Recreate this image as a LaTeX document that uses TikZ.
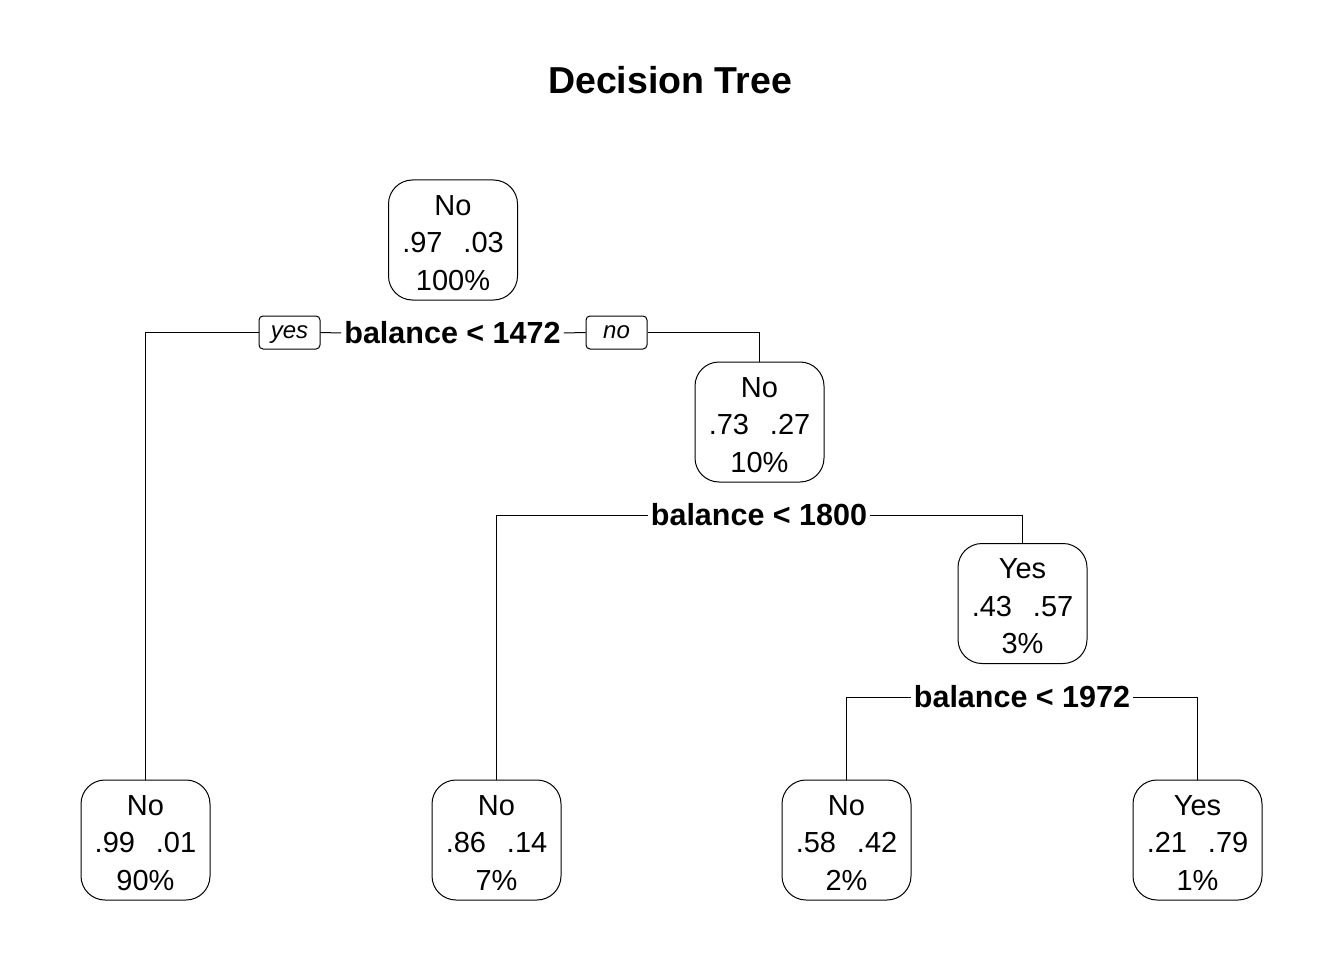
\documentclass[tikz,border=0pt]{standalone}
\usepackage{fontspec}
\setmainfont{Liberation Sans}
\begin{document}
\begin{tikzpicture}[x=1pt,y=-1pt,
  every node/.style={inner sep=0pt},
  leafbox/.style={draw,line width=1pt,rounded corners=24pt,minimum width=129pt,minimum height=120pt,
    align=center,font=\fontsize{29}{37.5}\selectfont},
  splitlbl/.style={font=\fontsize{30.5}{36}\selectfont\bfseries,inner xsep=3pt},
  dirbox/.style={draw,line width=1pt,rounded corners=4pt,minimum width=61pt,minimum height=33pt,
    text height=12.5pt,text depth=0pt,font=\fontsize{24}{28}\selectfont\itshape},
  edge/.style={line width=1pt}]
\useasboundingbox (0,0) rectangle (1344,960);
\fill[white] (0,0) rectangle (1344,960);
\newcommand{\pgap}{\hspace{0.72em}}
\newcommand{\tstrut}{\rule{0pt}{26pt}}
\node[font=\fontsize{37.5}{44}\selectfont\bfseries] (title) at (670,80) {Decision Tree};
% tree nodes
\node[leafbox] (root) at (453,240) {\tstrut No\\.97\pgap.03\\100\%};
\node[leafbox] (n2) at (759.5,422) {\tstrut No\\.73\pgap.27\\10\%};
\node[leafbox] (n3) at (1022.5,603.5) {\tstrut Yes\\.43\pgap.57\\3\%};
\node[leafbox] (l1) at (145.5,840) {\tstrut No\\.99\pgap.01\\90\%};
\node[leafbox] (l2) at (496.5,840) {\tstrut No\\.86\pgap.14\\7\%};
\node[leafbox] (l3) at (846.5,840) {\tstrut No\\.58\pgap.42\\2\%};
\node[leafbox] (l4) at (1197.5,840) {\tstrut Yes\\.21\pgap.79\\1\%};
% split labels
\node[splitlbl] (s1) at (452.5,333) {balance < 1472};
\node[splitlbl] (s2) at (759,515) {balance < 1800};
\node[splitlbl] (s3) at (1022,697) {balance < 1972};
\node[dirbox] (yes) at (289.5,332.5) {yes};
\node[dirbox] (no) at (616.5,332.5) {no};
% connectors
\draw[edge] (s1.west) -- (yes.east);
\draw[edge] (yes.west) -| (l1.north);
\draw[edge] (s1.east) -- (no.west);
\draw[edge] (no.east) -| (n2.north);
\draw[edge] (s2.west) -| (l2.north);
\draw[edge] (s2.east) -| (n3.north);
\draw[edge] (s3.west) -| (l3.north);
\draw[edge] (s3.east) -| (l4.north);
\end{tikzpicture}
\end{document}
